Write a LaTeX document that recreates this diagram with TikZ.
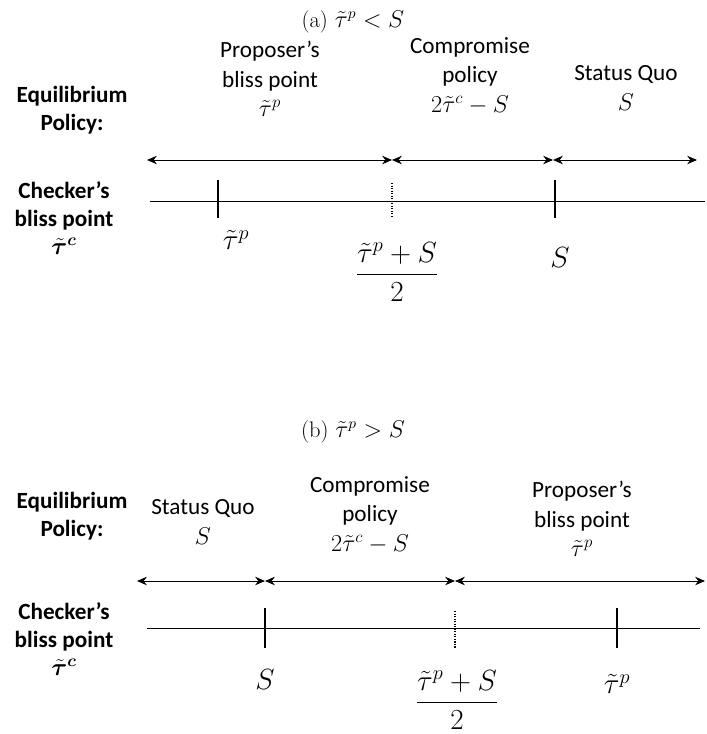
\documentclass[tikz,border=0pt]{standalone}
\usepackage{amsmath,amssymb,bm}
\usepackage{fontspec}
\setmainfont{Carlito}
\usepackage{tikz}
\usetikzlibrary{arrows.meta,positioning}
\usepackage{xcolor}
\newcommand{\mth}[1]{{\fontsize{18}{20}\selectfont$#1$}}
\newcommand{\mtk}[1]{{\fontsize{22}{24}\selectfont$#1$}}

\begin{document}
\begin{tikzpicture}[x=0.025cm,y=-0.025cm,
  lbl/.style={align=center,font=\fontsize{16.5}{21}\selectfont,inner sep=0pt},
  side/.style={align=center,font=\fontsize{16.5}{20}\selectfont\bfseries,inner sep=0pt},
  captxt/.style={font=\fontsize{16}{18}\selectfont,inner sep=0pt},
  mlbl/.style={inner sep=0pt},
  span/.style={{Stealth[length=7pt,width=6pt]}-{Stealth[length=7pt,width=6pt]},line width=0.6pt},
  axis/.style={line width=0.6pt},
  tick/.style={line width=1pt},
  midtick/.style={line width=0.8pt,densely dotted}]

\useasboundingbox (0,0) rectangle (707,734);

% (a) proposer below status quo
\node[captxt] (capa) at (353,22) {\fontspec{Latin Modern Roman}(a) $\tilde{\tau}^p < S$};
\node[side] (eqa) at (72,110) {Equilibrium\\Policy:};
\node[side] (cka) at (64,218) {Checker's\\bliss point\\\mth{\bm{\tilde{\tau}^{c}}}};
\node[lbl] (propa) at (270,79) {Proposer's\\bliss point\\\mth{\tilde{\tau}^{p}}};
\node[lbl] (compa) at (470,76) {Compromise\\policy\\\mth{2\tilde{\tau}^{c}-S}};
\node[lbl] (sqa) at (626,88) {Status Quo\\\mth{S}};

\coordinate (a0) at (147,160);
\coordinate (a1) at (392,160);
\coordinate (a2) at (553,160);
\coordinate (a3) at (697,160);
\draw[span] (a0) -- (a1);
\draw[span] (a1) -- (a2);
\draw[span] (a2) -- (a3);

\coordinate (la) at (150,201);
\coordinate (ra) at (705,201);
\draw[axis] (la) -- (ra);
\draw[tick] (218,180) -- (218,218);
\draw[midtick] (392,183) -- (392,218);
\draw[tick] (555,180) -- (555,218);

\node[mlbl] (tpa) at (236,240) {\mtk{\tilde{\tau}^{p}}};
\node[mlbl] (mida) at (397,272) {\mtk{\dfrac{\tilde{\tau}^{p}+S}{2}}};
\node[mlbl] (sa) at (560,258) {\mtk{S}};

% (b) proposer above status quo
\node[captxt] (capb) at (353,432) {\fontspec{Latin Modern Roman}(b) $\tilde{\tau}^p > S$};
\node[side] (eqb) at (72,516) {Equilibrium\\Policy:};
\node[side] (ckb) at (64,639) {Checker's\\bliss point\\\mth{\bm{\tilde{\tau}^{c}}}};
\node[lbl] (sqb) at (203,522) {Status Quo\\\mth{S}};
\node[lbl] (compb) at (370,515) {Compromise\\policy\\\mth{2\tilde{\tau}^{c}-S}};
\node[lbl] (propb) at (582,519) {Proposer's\\bliss point\\\mth{\tilde{\tau}^{p}}};

\coordinate (b0) at (137,581);
\coordinate (b1) at (265,581);
\coordinate (b2) at (455,581);
\coordinate (b3) at (705,581);
\draw[span] (b0) -- (b1);
\draw[span] (b1) -- (b2);
\draw[span] (b2) -- (b3);

\coordinate (lb) at (147,628);
\coordinate (rb) at (700,628);
\draw[axis] (lb) -- (rb);
\draw[tick] (265,608) -- (265,648);
\draw[midtick] (455,611) -- (455,648);
\draw[tick] (617,608) -- (617,648);

\node[mlbl] (sb) at (265,680) {\mtk{S}};
\node[mlbl] (midb) at (457,700) {\mtk{\dfrac{\tilde{\tau}^{p}+S}{2}}};
\node[mlbl] (tpb) at (617,684) {\mtk{\tilde{\tau}^{p}}};

\end{tikzpicture}
\end{document}
